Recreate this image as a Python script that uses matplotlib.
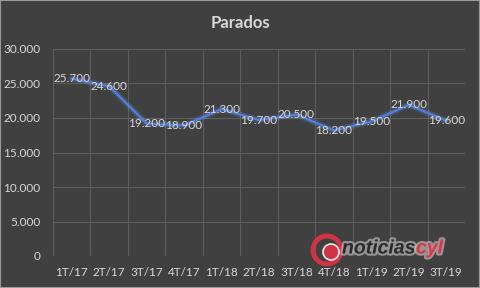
import matplotlib.pyplot as plt
from matplotlib.patches import Ellipse
import matplotlib.patheffects as pe

quarters = ["1T/17", "2T/17", "3T/17", "4T/17", "1T/18", "2T/18", "3T/18",
            "4T/18", "1T/19", "2T/19", "3T/19"]
parados = [25700, 24600, 19200, 18900, 21300, 19700, 20500, 18200, 19500, 21900, 19600]
yticks = [0, 5000, 10000, 15000, 20000, 25000, 30000]

plt.rcParams['font.family'] = ['Lato', 'DejaVu Sans']

bg = "#404040"
txt = "#d9d9d9"
grid = "#5e5e5e"

fig = plt.figure(figsize=(4.8, 2.88), dpi=100, facecolor=bg)
ax = fig.add_axes([53 / 480, 32 / 288, 412 / 480, 207 / 288])
ax.set_facecolor(bg)

x = list(range(len(quarters)))
# glow under the line
for lw, a in [(5, 0.08), (3.5, 0.15)]:
    ax.plot(x, parados, color="#7aa2ff", lw=lw, alpha=a, solid_capstyle="round")
ax.plot(x, parados, color="#4f7fe0", lw=1.6)

for i, v in enumerate(parados):
    ax.text(i, v, f"{v:,}".replace(",", "."), color=txt, fontsize=8.5,
            ha="center", va="center")

ax.set_xlim(-0.5, len(quarters) - 0.5)
ax.set_ylim(0, 30000)
ax.set_yticks(yticks)
ax.set_yticklabels([f"{v:,}".replace(",", ".") for v in yticks])
ax.set_xticks(x)
ax.set_xticklabels(quarters)
ax.set_xticks([i - 0.5 for i in range(len(quarters) + 1)], minor=True)
ax.tick_params(axis="both", which="both", length=0, colors=txt, labelsize=8.5)
ax.tick_params(axis="y", pad=9)
ax.tick_params(axis="x", pad=8)
ax.grid(axis="y", color=grid, lw=0.8)
ax.grid(axis="x", which="minor", color=grid, lw=0.8)
for s in ax.spines.values():
    s.set_visible(False)

fig.text(0.5, 1 - 23 / 288, "Parados", color=txt, fontsize=12, fontweight="bold",
         ha="center", va="center")

# watermark (circles drawn in pixel sizes)
def circ(cx, cy, r, **kw):
    fig.patches.append(Ellipse((cx / 480, 1 - cy / 288), 2 * r / 480, 2 * r / 288,
                               transform=fig.transFigure, **kw))

circ(327, 250, 14, facecolor="none", edgecolor="#e03345", lw=3.5, alpha=0.9)
circ(331, 252, 8, facecolor="#e03345", edgecolor="white", lw=1.2, alpha=0.9)
glow = [pe.withStroke(linewidth=3, foreground="#cfcfcf", alpha=0.6)]
fig.text(342 / 480, 1 - 249 / 288, "noticias", color="#2a2a2a", fontsize=14,
         family="Liberation Sans", fontstyle="italic", fontweight="bold",
         va="center", path_effects=glow)
fig.text(416 / 480, 1 - 249 / 288, "cyl", color="#e03345", fontsize=14,
         family="Liberation Sans", fontstyle="italic", fontweight="bold",
         va="center", path_effects=glow)

fig.patches.append(plt.Rectangle((0, 0), 1, 1, transform=fig.transFigure,
                                 fill=False, edgecolor="#9a9a9a", lw=1.5))

fig.savefig("out.png", dpi=100, facecolor=bg)
